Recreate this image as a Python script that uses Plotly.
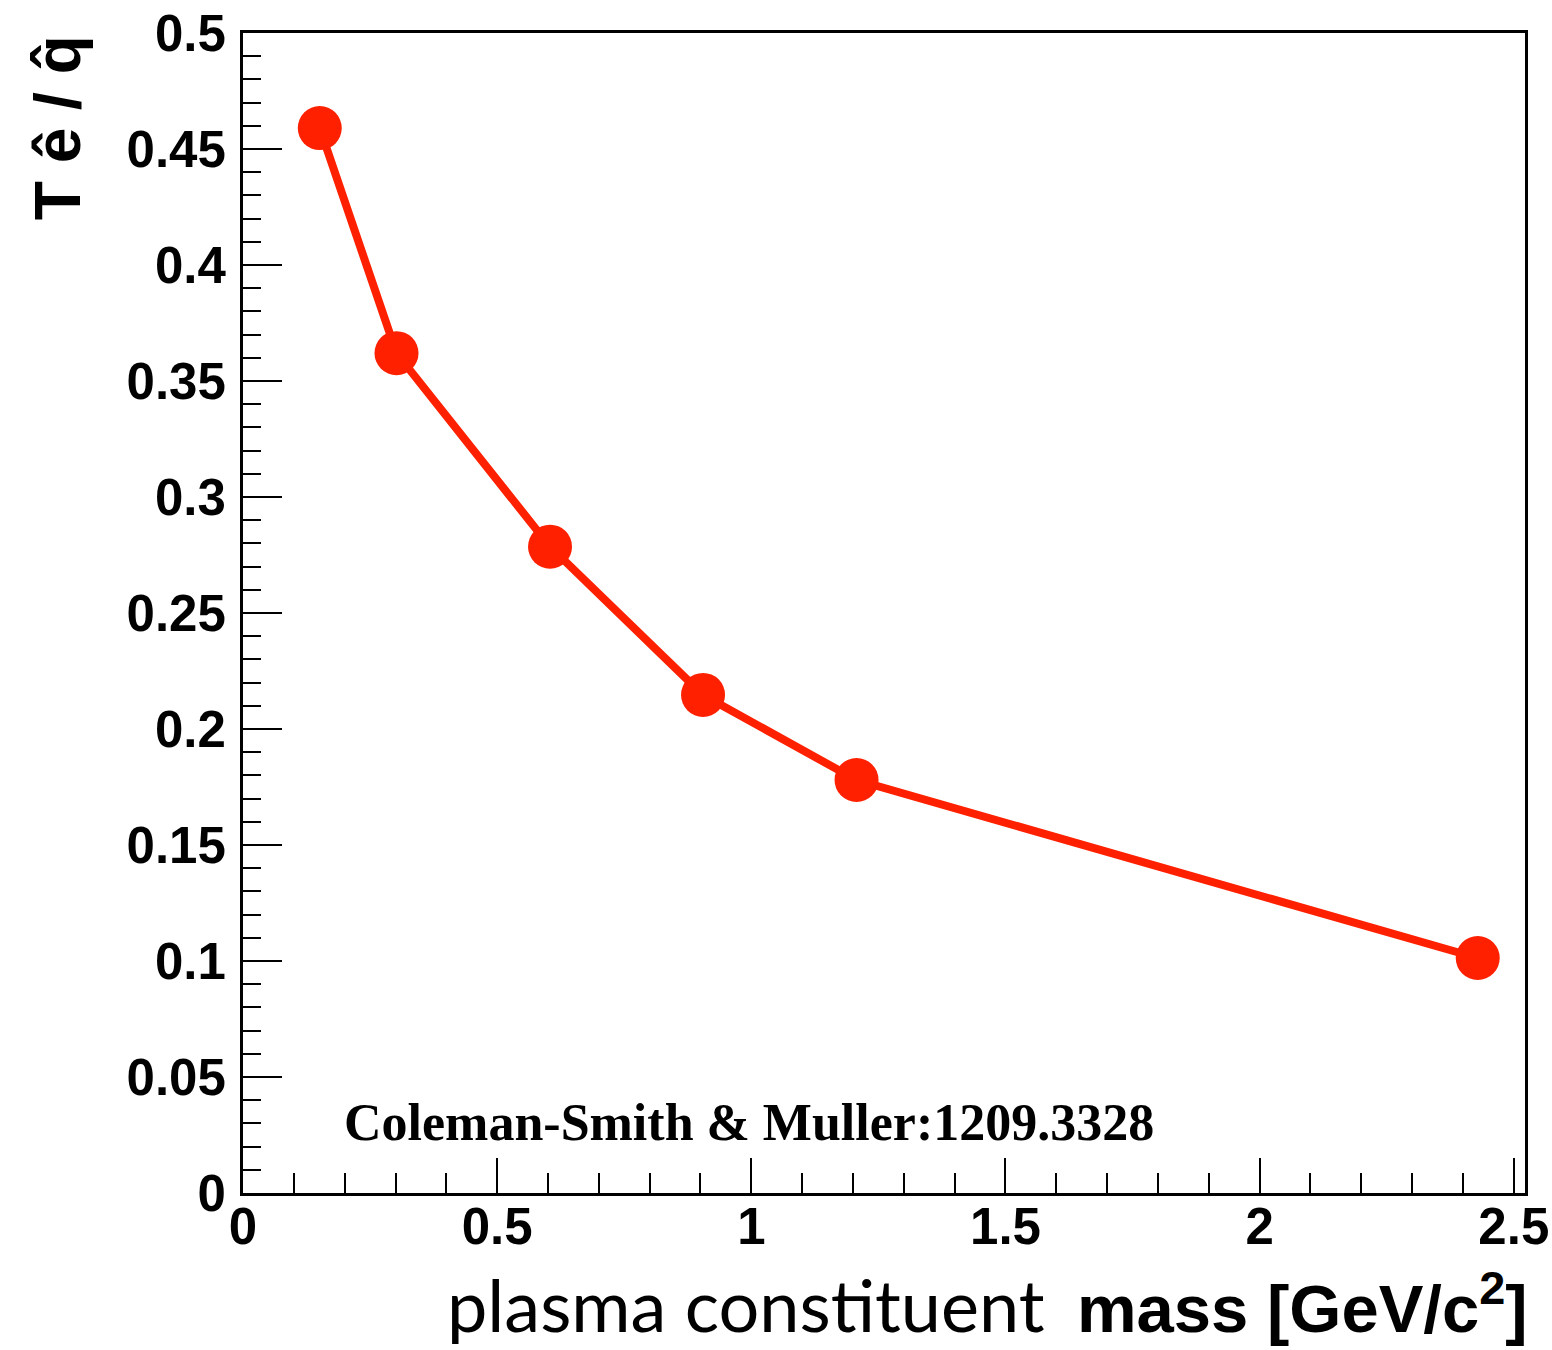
import plotly.graph_objects as go

# Data
mass = [0.151, 0.302, 0.604, 0.905, 1.207, 2.429]
ratio = [0.459, 0.362, 0.2786, 0.2147, 0.178, 0.1013]

x_ticks = [0, 0.5, 1, 1.5, 2, 2.5]
x_tick_labels = ["0", "0.5", "1", "1.5", "2", "2.5"]
y_ticks = [0, 0.05, 0.1, 0.15, 0.2, 0.25, 0.3, 0.35, 0.4, 0.45, 0.5]
y_tick_labels = ["0", "0.05", "0.1", "0.15", "0.2", "0.25", "0.3", "0.35", "0.4", "0.45", "0.5"]

red = "#ff2000"

fig = go.Figure()
fig.add_trace(go.Scatter(
    x=mass, y=ratio, mode="lines+markers",
    line=dict(color=red, width=8),
    marker=dict(color=red, size=44),
    showlegend=False,
))

tickfont = dict(family="Liberation Sans, Arial, sans-serif", size=51, color="black", weight="bold")

fig.update_layout(
    width=1552, height=1350,
    margin=dict(l=243, r=27, t=33, b=157),
    paper_bgcolor="white", plot_bgcolor="white",
    xaxis=dict(
        range=[0, 2.522], tickvals=x_ticks, ticktext=x_tick_labels,
        ticks="inside", ticklen=35, tickwidth=2, tickcolor="black",
        showline=True, linecolor="black", linewidth=3, mirror=True,
        showgrid=False, zeroline=False, tickfont=tickfont, automargin=False,
        ticklabelstandoff=-13,
        minor=dict(dtick=0.1, ticks="inside", ticklen=20, tickwidth=2, tickcolor="black", showgrid=False),
    ),
    yaxis=dict(
        range=[0, 0.5], tickvals=y_ticks, ticktext=y_tick_labels,
        ticks="inside", ticklen=39, tickwidth=2, tickcolor="black",
        showline=True, linecolor="black", linewidth=3, mirror=True,
        showgrid=False, zeroline=False, tickfont=tickfont, automargin=False,
        ticklabelstandoff=4,
        minor=dict(dtick=0.01, ticks="inside", ticklen=18, tickwidth=2, tickcolor="black", showgrid=False),
    ),
    annotations=[
        dict(text="T ê / q\u0302", xref="paper", yref="paper", x=-0.1443, y=0.918,
             xanchor="center", yanchor="middle", textangle=-90, showarrow=False,
             font=dict(family="Liberation Sans, Arial, sans-serif", size=64, color="black", weight="bold")),
        dict(text="Coleman-Smith & Muller:1209.3328", xref="paper", yref="paper", x=0.3947, y=0.0612,
             xanchor="center", yanchor="middle", showarrow=False,
             font=dict(family="Liberation Serif, serif", size=52, color="black", weight="bold")),
        dict(text="plasma constituent", xref="paper", yref="paper", x=(445 - 243) / 1282, y=-0.096,
             xanchor="left", yanchor="middle", showarrow=False,
             font=dict(family="Lato, sans-serif", size=72, color="black")),
        dict(text="mass [GeV/c<sup>2</sup>]", xref="paper", yref="paper", x=1.004, y=-0.096,
             xanchor="right", yanchor="middle", showarrow=False,
             font=dict(family="Liberation Sans, Arial, sans-serif", size=67, color="black", weight="bold")),
    ],
)

fig.write_html("out.html")
